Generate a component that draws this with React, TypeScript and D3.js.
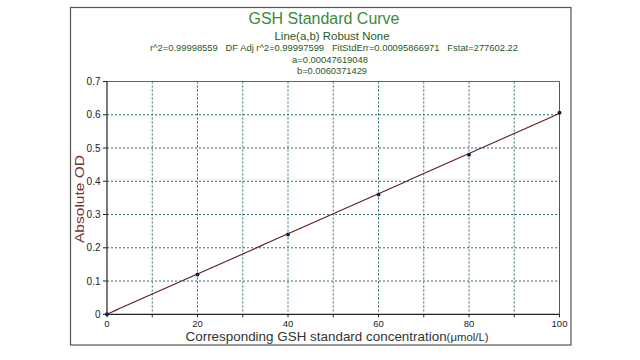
import React from "react";
import * as d3 from "d3";

const concentrations = [0, 20, 40, 60, 80, 100];
const absoluteOD = [0.0, 0.12, 0.24, 0.36, 0.48, 0.606];
const fitA = 0.00047619048;
const fitB = 0.0060371429;
const xTickValues = [0, 10, 20, 30, 40, 50, 60, 70, 80, 90, 100];
const xTickLabels = ["0", "20", "40", "60", "80", "100"];
const yTickValues = [0, 0.1, 0.2, 0.3, 0.4, 0.5, 0.6, 0.7];
const titleText = "GSH Standard Curve";
const subtitleLines = [
  "Line(a,b) Robust None",
  "r^2=0.99998559   DF Adj r^2=0.99997599   FitStdErr=0.00095866971   Fstat=277602.22",
  "a=0.00047619048",
  "b=0.0060371429",
];
const xLabel = "Corresponding GSH standard concentration";
const xUnit = "(μmol/L)";
const yLabel = "Absolute OD";

export default function App() {
  const W = 640, H = 360;
  const left = 107, right = 559.5, top = 81.5, bottom = 314.3;
  const x = d3.scaleLinear().domain([0, 100]).range([left, right]);
  const y = d3.scaleLinear().domain([0, 0.7]).range([bottom, top]);
  const fitData = d3.range(0, 101, 1).map((v) => [v, fitA + fitB * v] as [number, number]);
  const line = d3.line<[number, number]>().x((d) => x(d[0])).y((d) => y(d[1]));
  const font = "'Liberation Sans', Arial, sans-serif";
  const grid = "#2d6b6b";
  const subY = [36, 48, 59.5, 71];
  const subSizes = [11.5, 9, 9.5, 9.5];
  const subLens = [115, 368, 76, 70];
  const subCx = [332, 334, 330, 332];

  return (
    <svg width={W} height={H} style={{ position: "absolute", left: 0, top: 0, background: "#fff" }} fontFamily={font}>
      <rect x={0} y={0} width={W} height={H} fill="#fff" />
      <rect x={70.5} y={7.5} width={500.5} height={337.5} fill="none" stroke="#555" strokeWidth={1.2} />
      <text x={324} y={24} textAnchor="middle" fontSize={16} fill="#3b8a3b" textLength={151} lengthAdjust="spacingAndGlyphs">{titleText}</text>
      {subtitleLines.map((t, i) => (
        <text key={i} x={subCx[i]} y={subY[i] + subSizes[i] * 0.35} textAnchor="middle" fontSize={subSizes[i]} fill="#1f5a1f" textLength={subLens[i]} lengthAdjust="spacingAndGlyphs" style={{ whiteSpace: "pre" }}>{t}</text>
      ))}
      {/* grid */}
      {xTickValues.filter((v) => v > 0 && v < 100).map((v) => (
        <line key={"gx" + v} x1={x(v)} x2={x(v)} y1={top} y2={bottom} stroke={grid} strokeDasharray="2,2" strokeWidth={1} />
      ))}
      {yTickValues.filter((v) => v > 0 && v < 0.7).map((v) => (
        <line key={"gy" + v} x1={left} x2={right} y1={y(v)} y2={y(v)} stroke={grid} strokeDasharray="2,2" strokeWidth={1} />
      ))}
      {/* plot border */}
      <line x1={left} x2={right} y1={top} y2={top} stroke="#666" strokeWidth={1} />
      <line x1={right} x2={right} y1={top} y2={bottom} stroke="#555" strokeWidth={1} />
      <line x1={left} x2={left} y1={top} y2={bottom} stroke="#222" strokeWidth={1.2} />
      <line x1={left} x2={right} y1={bottom} y2={bottom} stroke="#222" strokeWidth={1.2} />
      {/* ticks */}
      {xTickValues.map((v) => (
        <line key={"tx" + v} x1={x(v)} x2={x(v)} y1={bottom} y2={bottom + 3} stroke="#222" />
      ))}
      {yTickValues.map((v) => (
        <line key={"ty" + v} x1={left - 4} x2={left} y1={y(v)} y2={y(v)} stroke="#222" />
      ))}
      {xTickLabels.map((l) => (
        <text key={"lx" + l} x={x(+l)} y={326.5} textAnchor="middle" fontSize={9.5} fill="#222">{l}</text>
      ))}
      {yTickValues.map((v) => (
        <text key={"ly" + v} x={100.5} y={y(v) + 3.5} textAnchor="end" fontSize={10} fill="#222">{v === 0 ? "0" : d3.format(".1f")(v)}</text>
      ))}
      {/* fit line */}
      <path d={line(fitData) || ""} fill="none" stroke="#5a1f22" strokeWidth={1.1} />
      {concentrations.map((c, i) => (
        <circle key={"p" + i} cx={x(c)} cy={y(absoluteOD[i])} r={2} fill="#1a1a5a" />
      ))}
      {/* axis labels */}
      <text x={337} y={340.5} textAnchor="middle" fontSize={13} fill="#333" textLength={303} lengthAdjust="spacingAndGlyphs">
        {xLabel}<tspan fontSize={11}>{xUnit}</tspan>
      </text>
      <text transform="translate(84,199) rotate(-90)" textAnchor="middle" fontSize={13.5} fill="#7a3030" textLength={88} lengthAdjust="spacingAndGlyphs">{yLabel}</text>
    </svg>
  );
}
